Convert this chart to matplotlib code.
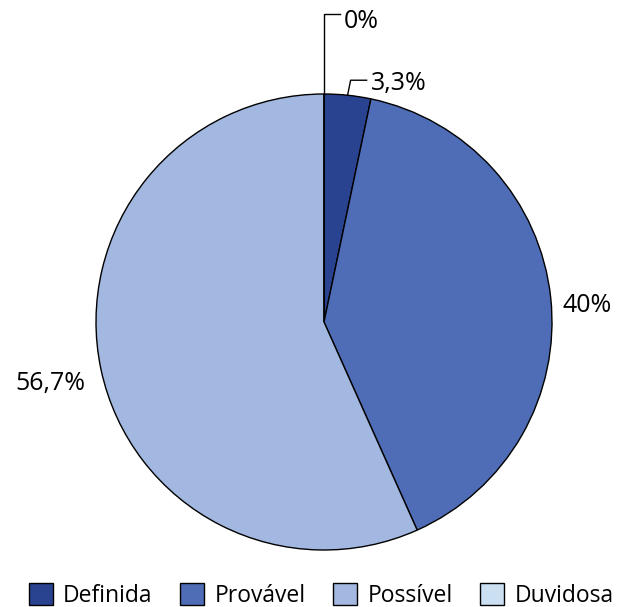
import numpy as np
import matplotlib.pyplot as plt

# data
categories = ['Definida', 'Provável', 'Possível', 'Duvidosa']
values = [3.3, 40, 56.7, 0]
labels = ['3,3%', '40%', '56,7%', '0%']
colors = ['#2a4391', '#4f6db6', '#a2b8e0', '#cbdff3']

plt.rcParams['font.family'] = ['Open Sans', 'DejaVu Sans']

W, H = 624, 607
fig = plt.figure(figsize=(W / 100, H / 100), dpi=100)
ax = fig.add_axes([0, 0, 1, 1])

cx, cy, r = 324, H - 322, 228
wedges, _ = ax.pie(values, colors=colors, startangle=90, counterclock=False,
                   center=(cx, cy), radius=r, frame=True,
                   wedgeprops=dict(edgecolor='black', linewidth=1))
ax.set_xlim(0, W)
ax.set_ylim(0, H)
ax.set_aspect('equal')
ax.axis('off')

# mid angles of each slice
total = sum(values)
cum = np.cumsum([0] + values)
mid = [90 - (cum[i] + values[i] / 2) / total * 360 for i in range(len(values))]

def edge(a, rr=r):
    t = np.deg2rad(a)
    return cx + rr * np.cos(t), cy + rr * np.sin(t)

fs = 18
# 3,3% with leader
x0, y0 = edge(mid[0])
ax.plot([x0, x0 + 3, x0 + 19], [y0, y0 + 15, y0 + 15], color='black', lw=1)
ax.text(x0 + 23, y0 + 15, labels[0], fontsize=fs, va='center_baseline', ha='left')

# 40%
x1, y1 = edge(mid[1], r * 1.16)
ax.text(x1, y1 - 9, labels[1], fontsize=fs, va='center_baseline', ha='center')

# 56,7%
x2, y2 = edge(mid[2], r * 1.2)
ax.text(x2 - 6, y2 - 1, labels[2], fontsize=fs, va='center_baseline', ha='center')

# 0% with leader
x3, y3 = edge(90)
ax.plot([x3, x3, x3 + 16], [y3, H - 14, H - 14], color='black', lw=1)
ax.text(x3 + 20, H - 19, labels[3], fontsize=fs, va='center_baseline', ha='left')

handles = [plt.Rectangle((0, 0), 1, 1, facecolor=c, edgecolor='black', lw=1)
           for c in colors]
fig.legend(handles, categories, loc='lower center', ncol=4, frameon=False,
           fontsize=16.5, handlelength=1.05, handleheight=1.05, handletextpad=0.45,
           columnspacing=1.2, borderpad=0.1, bbox_to_anchor=(0.515, -0.024))

fig.savefig('out.png', dpi=100)
